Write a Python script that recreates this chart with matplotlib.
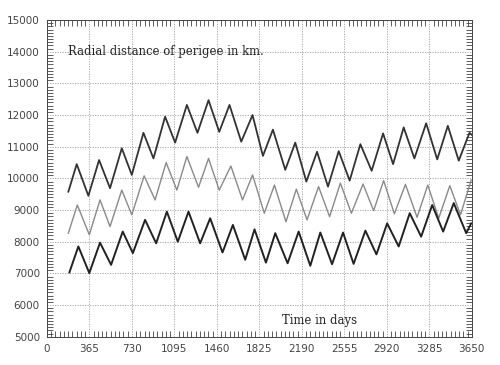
import matplotlib.pyplot as plt
from matplotlib.ticker import MultipleLocator

# upper curve
days_up = [185, 257, 357, 449, 543, 644, 730, 830, 916, 1016, 1102, 1203, 1294, 1389,
           1481, 1569, 1670, 1767, 1856, 1942, 2048, 2134, 2229, 2321, 2415, 2507, 2601,
           2693, 2790, 2888, 2974, 3065, 3157, 3258, 3353, 3444, 3538, 3630, 3648]
perigee_up = [9580, 10450, 9450, 10580, 9690, 10950, 10110, 11440, 10630, 11950, 11130,
              12320, 11440, 12470, 11470, 12320, 11160, 12000, 10710, 11540, 10270, 11130,
              9900, 10840, 9740, 10860, 9930, 11080, 10240, 11420, 10450, 11610, 10630,
              11740, 10600, 11660, 10560, 11440, 11380]

# middle curve
days_mid = [185, 262, 365, 457, 543, 644, 730, 836, 930, 1025, 1117, 1203, 1303, 1389,
            1481, 1581, 1681, 1767, 1868, 1955, 2054, 2143, 2235, 2334, 2429, 2521, 2616,
            2716, 2807, 2893, 2985, 3080, 3180, 3272, 3366, 3461, 3553, 3645]
perigee_mid = [8270, 9160, 8220, 9320, 8480, 9630, 8850, 10080, 9320, 10500, 9630, 10690,
               9720, 10630, 9630, 10390, 9320, 10110, 8900, 9790, 8630, 9660, 8690, 9740,
               8790, 9850, 8900, 9820, 8980, 9930, 8880, 9810, 8770, 9790, 8740, 9770,
               8850, 9950]

# lower curve
days_low = [194, 271, 365, 457, 552, 652, 739, 844, 939, 1031, 1125, 1217, 1317, 1403,
            1509, 1598, 1704, 1784, 1882, 1962, 2068, 2163, 2263, 2349, 2450, 2544, 2635,
            2736, 2831, 2923, 3022, 3117, 3215, 3310, 3404, 3495, 3602, 3645]
perigee_low = [7030, 7850, 7010, 7970, 7270, 8320, 7640, 8690, 7950, 8950, 8000, 8950,
               7950, 8740, 7660, 8530, 7430, 8390, 7340, 8270, 7320, 8320, 7240, 8290,
               7290, 8290, 7300, 8350, 7600, 8580, 7850, 8900, 8160, 9160, 8320, 9220,
               8270, 8580]

xticks = list(range(0, 3651, 365))
yticks = list(range(5000, 15001, 1000))

fig = plt.figure(figsize=(5, 3.65), dpi=100)
ax = fig.add_axes([0.0936, 0.0775, 0.85, 0.8675])

ax.plot(days_up, perigee_up, color="#333333", lw=1.3)
ax.plot(days_mid, perigee_mid, color="#8a8a8a", lw=1.0)
ax.plot(days_low, perigee_low, color="#222222", lw=1.4)

ax.set_xlim(0, 3650)
ax.set_ylim(5000, 15000)
ax.set_xticks(xticks)
ax.set_yticks(yticks)
ax.xaxis.set_minor_locator(MultipleLocator(36.5))
ax.yaxis.set_minor_locator(MultipleLocator(100))
ax.tick_params(which="both", direction="in", top=True, right=True, labelsize=7.5,
               colors="#444444", width=0.6)
ax.tick_params(which="major", length=0, pad=5)
ax.tick_params(which="minor", length=4)
ax.grid(True, which="major", color="#a0a0a0", ls=(0, (1.5, 1.5)), lw=0.6)
for s in ax.spines.values():
    s.set_linewidth(0.7)
    s.set_color("#444444")

ax.text(183, 14000, "Radial distance of perigee in km.", family="DejaVu Serif",
        fontsize=8.4, va="center", color="#222222")
ax.text(2022, 5500, "Time in days", family="DejaVu Serif", fontsize=8.4,
        va="center", color="#222222")

plt.savefig("out.png")
